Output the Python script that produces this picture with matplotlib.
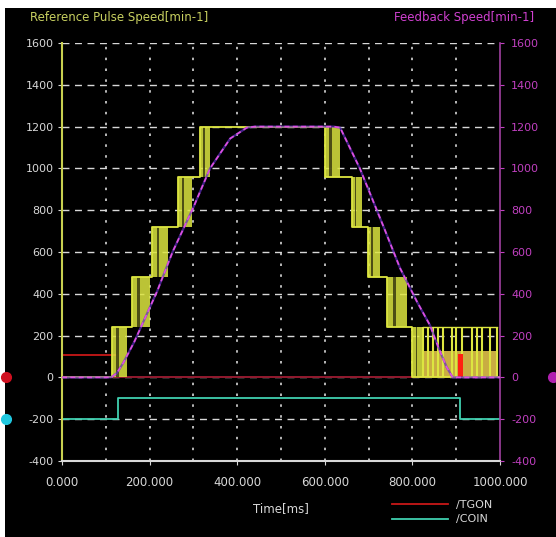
import matplotlib
matplotlib.use('Agg')
import matplotlib.pyplot as plt
from matplotlib.patches import Rectangle
from matplotlib.lines import Line2D
import numpy as np

# reference pulse speed held levels (min-1), step-post
ref_t = [0, 114, 160, 205, 265, 315, 600, 662, 698, 742, 800, 1000]
ref_v = [0, 240, 480, 720, 960, 1200, 960, 720, 480, 240, 0, 0]

# blocks where the pulse speed dithers between two levels
blk_t0 = [114, 160, 205, 265, 315, 600, 662, 698, 742, 800]
blk_t1 = [148, 200, 242, 297, 338, 635, 685, 726, 788, 824]
blk_lo = [0, 240, 480, 720, 960, 960, 720, 480, 240, 0]
blk_hi = [240, 480, 720, 960, 1200, 1200, 960, 720, 480, 240]

# settling at the end: pulse spikes up to 240 and low band
spike_t = [824, 835, 847, 858, 870, 890, 900, 913, 936, 947, 959, 977, 993]
spike_v = 240
band_t = [824, 995]
band_v = 125

# feedback speed (min-1)
fb_t = [0, 112, 125, 140, 165, 217, 253, 299, 338, 384, 422, 440, 600, 620, 635, 680,
        733, 772, 810, 840, 860, 878, 892, 1000]
fb_v = [0, 0, 20, 70, 170, 411, 603, 809, 1000, 1143, 1195, 1200, 1200, 1200, 1195, 1000,
        727, 522, 364, 250, 140, 50, 0, 0]

# /TGON and /COIN signals
tgon_t = [0, 112, 125, 1000]
tgon_v = [105, 105, 0, 0]
coin_t = [0, 128, 909, 1000]
coin_v = [-200, -100, -200, -200]

yticks = [-400, -200, 0, 200, 400, 600, 800, 1000, 1200, 1400, 1600]
xticks = [0, 200, 400, 600, 800, 1000]
xtick_labels = ['0.000', '200.000', '400.000', '600.000', '800.000', '1000.000']

W, H = 556, 537
fig = plt.figure(figsize=(W / 100, H / 100), dpi=100, facecolor='white')
fig.patches.append(Rectangle((5 / W, 0), 1, 1 - 8 / H, transform=fig.transFigure,
                             facecolor='black', edgecolor='none', zorder=-10))

ax = fig.add_axes([62 / W, 1 - 461 / H, 438 / W, 418 / H])
ax.set_facecolor('black')
ax.set_xlim(0, 1000)
ax.set_ylim(-400, 1600)

grid_c = '#d8d8d8'
for y in yticks[1:]:
    ax.axhline(y, color=grid_c, lw=1, ls=(0, (5, 4)), zorder=1)
for x in range(100, 1000, 100):
    ax.axvline(x, color=grid_c, lw=1.2, ls=(0, (1.5, 5)), zorder=1)

yel = '#dde640'
for t0, t1, lo, hi in zip(blk_t0, blk_t1, blk_lo, blk_hi):
    ax.fill_between([t0, t1], lo, hi, color=yel, alpha=0.85, lw=0, zorder=3)
    ax.fill_between([t0 + (t1 - t0) * 0.3, t0 + (t1 - t0) * 0.45], lo, hi,
                    color='#3a3a10', alpha=0.85, lw=0, zorder=3)
ax.fill_between(band_t, 0, band_v, color='#e0c04a', alpha=0.9, lw=0, zorder=3)
ax.vlines(spike_t, 0, spike_v, color=yel, lw=1.5, zorder=4)
ax.step(ref_t, ref_v, where='post', color=yel, lw=1.3, zorder=4)
ax.plot([spike_t[0], spike_t[-1]], [spike_v, spike_v], color=yel, lw=1, zorder=4)
ax.fill_between([905, 915], 0, 110, color='#ff2010', lw=0, zorder=5)

ax.plot(fb_t, fb_v, color='#6030c0', lw=1.6, alpha=0.7, zorder=5)
ax.plot(fb_t, fb_v, color='#e050e0', lw=1.2, ls=(0, (3, 2)), zorder=6)

tgon_line, = ax.plot(tgon_t, tgon_v, color='#c81818', lw=1.3, zorder=2,
                     drawstyle='steps-post')
ax.axhline(0, color='#8a1a30', lw=1.3, zorder=2)
coin_line, = ax.step(coin_t, coin_v, where='post', color='#40d0b0', lw=1.3, zorder=2)

# channel offset markers
ax.plot([-128], [0], 'o', color='#d01020', ms=7, clip_on=False)
ax.plot([-128], [-200], 'o', color='#20c8e0', ms=7, clip_on=False)
ax.plot([1121], [0], 'o', color='#b020b0', ms=7, clip_on=False)

ax.spines['top'].set_visible(False)
ax.spines['left'].set_color('#c8d050')
ax.spines['left'].set_linewidth(1.5)
ax.spines['bottom'].set_color('#d8d8d8')
ax.spines['bottom'].set_linewidth(1.5)
ax.spines['right'].set_color('#a040a0')
ax.spines['right'].set_linewidth(1.2)

ax.set_yticks(yticks)
ax.set_yticklabels([str(v) for v in yticks])
ax.set_xticks(xticks)
ax.set_xticklabels(xtick_labels)
ax.tick_params(axis='y', colors='#d8d8d8', labelsize=8, length=3, pad=3)
ax.tick_params(axis='x', colors='#d8d8d8', labelsize=8.5, length=3, pad=8)

ax2 = ax.twinx()
ax2.set_ylim(-400, 1600)
ax2.set_yticks(yticks)
ax2.set_yticklabels([str(v) for v in yticks])
ax2.tick_params(axis='y', colors='#c040c0', labelsize=8, length=3, pad=5)
for s in ax2.spines.values():
    s.set_visible(False)

ax.set_xlabel('Time[ms]', color='#d8d8d8', fontsize=8.5, labelpad=9)

fig.text(30 / W, 1 - 17 / H, 'Reference Pulse Speed[min-1]', color='#c8d060',
         fontsize=8.5, va='center', ha='left')
fig.text(534 / W, 1 - 17 / H, 'Feedback Speed[min-1]', color='#d040d0',
         fontsize=8.5, va='center', ha='right')

leg = fig.legend(handles=[Line2D([], [], color='#c81818', lw=1.3),
                          Line2D([], [], color='#40d0b0', lw=1.3)],
                 labels=['/TGON', '/COIN'], loc='upper left',
                 bbox_to_anchor=(382 / W, 1 - 490 / H), frameon=False,
                 handlelength=5, fontsize=8, labelspacing=0.4)
for t in leg.get_texts():
    t.set_color('#d8d8d8')

fig.savefig('out.png', dpi=100, facecolor='white')
